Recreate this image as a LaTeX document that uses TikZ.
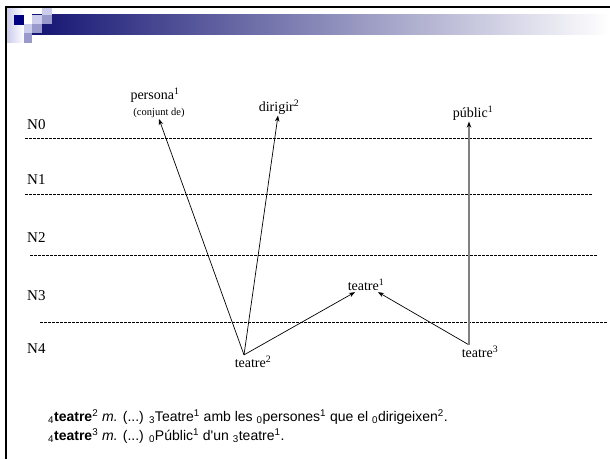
\documentclass[tikz,border=0pt]{standalone}
\usepackage{fontspec}
\setmainfont{Liberation Serif}
\newfontfamily\arialfont{Liberation Sans}
\usetikzlibrary{arrows.meta,positioning}
\tikzset{>={Stealth[length=6pt,width=4.5pt]}}
\definecolor{barColor}{RGB}{20,20,115}
\definecolor{navySq}{RGB}{0,0,128}
\definecolor{lightSq}{RGB}{204,204,236}
\definecolor{midSq}{RGB}{153,153,204}
\colorlet{greyLine}{black!50}
\tikzset{
  level/.style={anchor=west,inner sep=0pt,font=\fontsize{15}{15}\selectfont},
  word/.style={inner sep=1pt,font=\fontsize{14}{14}\selectfont},
  levelline/.style={dash pattern=on 2.5pt off 1.5pt,line width=0.6pt},
  arr/.style={->,line width=0.7pt},
  gloss/.style={anchor=west,inner sep=0pt,font=\arialfont\fontsize{14}{14}\selectfont}
}

\begin{document}
\begin{tikzpicture}[x=1pt,y=-1pt]
\useasboundingbox (0,0) rectangle (610,459);
% header bar
\shade[left color=barColor,right color=white] (32,14) rectangle (610,34);
\shade[left color=lightSq,right color=white] (7,8) rectangle (24,42);
\fill[navySq] (14,15) rectangle (24,25);
\fill[white] (24,15) rectangle (32,24);
\fill[lightSq] (32,15) rectangle (42,24);
\fill[lightSq] (42,8) rectangle (52,15);
\fill[midSq] (42,15) rectangle (52,24);
\fill[lightSq] (24,24) rectangle (32,33);
\fill[midSq] (32,24) rectangle (42,33);
\fill[midSq] (24,33) rectangle (32,43);
\draw[line width=2pt] (5,6.5) -- (610,6.5);
\draw[line width=2.5pt] (6,5.5) -- (6,459);

% levels
\draw[levelline] (25,138) -- (592,138);
\draw[levelline] (25,194) -- (592,194);
\draw[levelline] (30,255) -- (597,255);
\draw[levelline] (40,322) -- (607,322);
\node[level] (n0) at (27,125) {N0};
\node[level] (n1) at (27,180) {N1};
\node[level] (n2) at (27,238) {N2};
\node[level] (n3) at (27,296) {N3};
\node[level] (n4) at (27,349) {N4};

% words
\node[word] (persona) at (155,95) {persona\textsuperscript{1}};
\node[inner sep=1pt,font=\fontsize{10.5}{10.5}\selectfont] (conjunt) at (159,113) {(conjunt de)};
\node[word] (dirigir) at (279,107) {dirigir\textsuperscript{2}};
\node[word] (public) at (473,113) {públic\textsuperscript{1}};
\node[word] (teatreA) at (366,285) {teatre\textsuperscript{1}};
\node[word] (teatreB) at (253,362) {teatre\textsuperscript{2}};
\node[word] (teatreC) at (480,352) {teatre\textsuperscript{3}};
\coordinate (apexB) at ([xshift=-9pt]teatreB.north);
\coordinate (apexC) at ([xshift=-11pt]teatreC.north);

\draw[arr] (apexB) -- (conjunt.south);
\draw[arr] (apexB) -- ([xshift=-1pt]dirigir.south);
\draw[arr] (apexB) -- ([xshift=-11pt]teatreA.south);
\draw[arr] (apexC) -- ([xshift=12pt]teatreA.south);
\draw[-{Stealth[length=6pt,width=4.5pt,color=black]},greyLine,line width=1.2pt] (apexC) -- (apexC |- public.south);

% glosses
\node[gloss] (glossB) at (48,417) {\textsubscript{4}\textbf{teatre}\textsuperscript{2} \textit{m.} (...) \textsubscript{3}Teatre\textsuperscript{1} amb les \textsubscript{0}persones\textsuperscript{1} que el \textsubscript{0}dirigeixen\textsuperscript{2}.};
\node[gloss] (glossC) at (48,436) {\textsubscript{4}\textbf{teatre}\textsuperscript{3} \textit{m.} (...) \textsubscript{0}Públic\textsuperscript{1} d'un \textsubscript{3}teatre\textsuperscript{1}.};
\end{tikzpicture}
\end{document}
